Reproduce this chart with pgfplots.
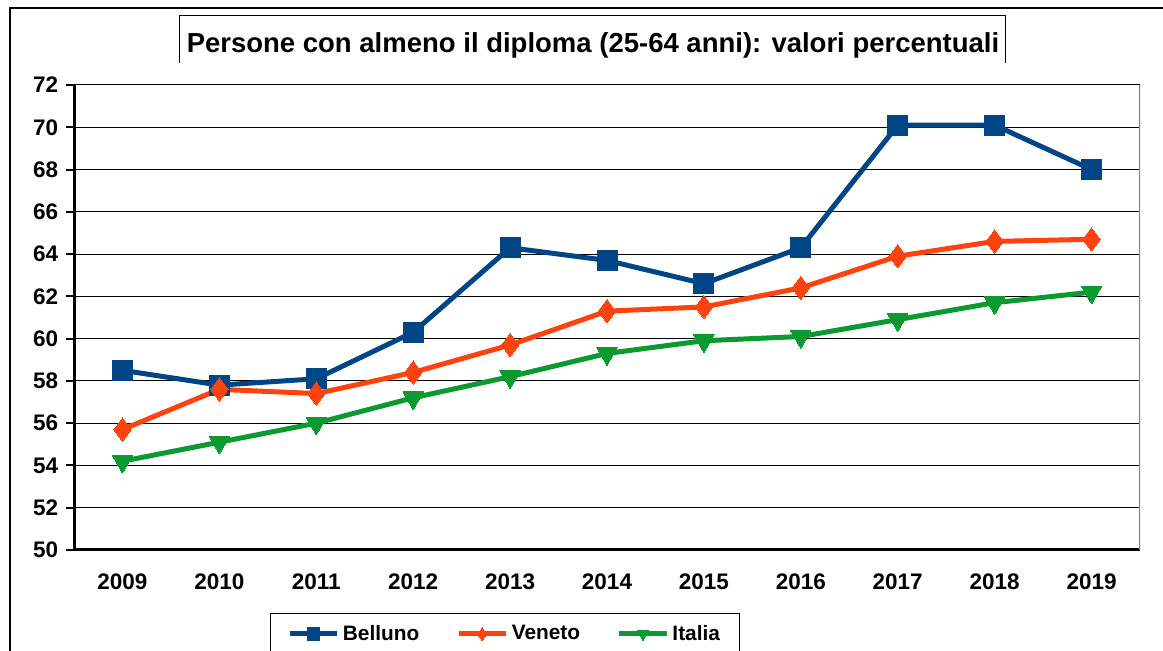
\documentclass[border=0pt]{standalone}
\usepackage{pgfplots}
\pgfplotsset{compat=1.18}
\usepackage{fontspec}
\setmainfont{Liberation Sans}
\definecolor{cBel}{HTML}{004586}
\definecolor{cVen}{HTML}{FF420E}
\definecolor{cIta}{HTML}{0A9A30}
\begin{document}
\begin{tikzpicture}[x=0.6pt,y=0.6pt]
\useasboundingbox (0,0) rectangle (1163,651);
\coordinate (A) at (74,101);
% outer frame
\draw[line width=0.8pt] (10,0) -- (10,643) -- (1163,643);
% title box
\draw[line width=0.6pt] (179,588) -- (179,635) -- (1005,635) -- (1005,588);
\node[font=\fontsize{16.5}{18}\selectfont\bfseries] at (593,606) {Persone con almeno il diploma (25-64 anni): valori percentuali};
\begin{axis}[
  at={(A)}, anchor=south west,
  scale only axis, width=639.6pt, height=279pt,
  xmin=-0.5, xmax=10.5, ymin=50, ymax=72,
  xtick={0,...,10},
  xticklabels={2009,2010,2011,2012,2013,2014,2015,2016,2017,2018,2019},
  minor xtick={-0.5,0.5,...,10.5},
  ytick={50,52,...,72},
  axis x line*=bottom, axis y line*=left,
  axis line style={line width=1.8pt, -},
  x tick style={draw=none},
  minor x tick style={line width=1.2pt, black},
  y tick style={line width=1.2pt, black},
  minor tick length=6pt, major tick length=5pt,
  tick align=outside,
  ymajorgrids, grid style={black, line width=0.6pt},
  tick label style={font=\fontsize{13.5}{15}\selectfont\bfseries},
  /pgf/number format/assume math mode=true,
  xticklabel style={yshift=-6pt},
  yticklabel style={xshift=-1pt},
  every axis plot/.append style={line width=3pt},
  legend columns=3,
  legend style={at={(0.1839,-0.1355)}, anchor=north west, draw=black, line width=0.6pt,
    font=\fontsize{12.5}{14}\selectfont\bfseries, inner xsep=10pt, inner ysep=5pt,
    /tikz/every even column/.append style={column sep=20pt}},
  legend image code/.code={\draw[#1, line width=3pt] (0cm,0cm) -- (1cm,0cm);
    \draw[#1, mark size=3.8pt, mark repeat=2, mark phase=2] plot coordinates {(0cm,0cm) (0.5cm,0cm) (1cm,0cm)};},
]
\draw[gray, line width=0.8pt] (axis cs:10.5,50) -- (axis cs:10.5,72);
\addplot[cBel, mark=square*, mark size=6pt, mark options={solid, line width=0pt}] coordinates {
  (0,58.5) (1,57.8) (2,58.1) (3,60.3) (4,64.3) (5,63.7) (6,62.6) (7,64.3) (8,70.1) (9,70.1) (10,68.0)
};
\addlegendentry{Belluno}
\addplot[cVen, mark=diamond*, mark size=7pt, mark options={solid, line width=0pt}] coordinates {
  (0,55.7) (1,57.6) (2,57.4) (3,58.4) (4,59.7) (5,61.3) (6,61.5) (7,62.4) (8,63.9) (9,64.6) (10,64.7)
};
\addlegendentry{Veneto}
\addplot[cIta, mark=triangle*, mark size=7pt, mark options={solid, rotate=180, line width=0pt}] coordinates {
  (0,54.2) (1,55.1) (2,56.0) (3,57.2) (4,58.2) (5,59.3) (6,59.9) (7,60.1) (8,60.9) (9,61.7) (10,62.2)
};
\addlegendentry{Italia}
\end{axis}
\end{tikzpicture}
\end{document}
